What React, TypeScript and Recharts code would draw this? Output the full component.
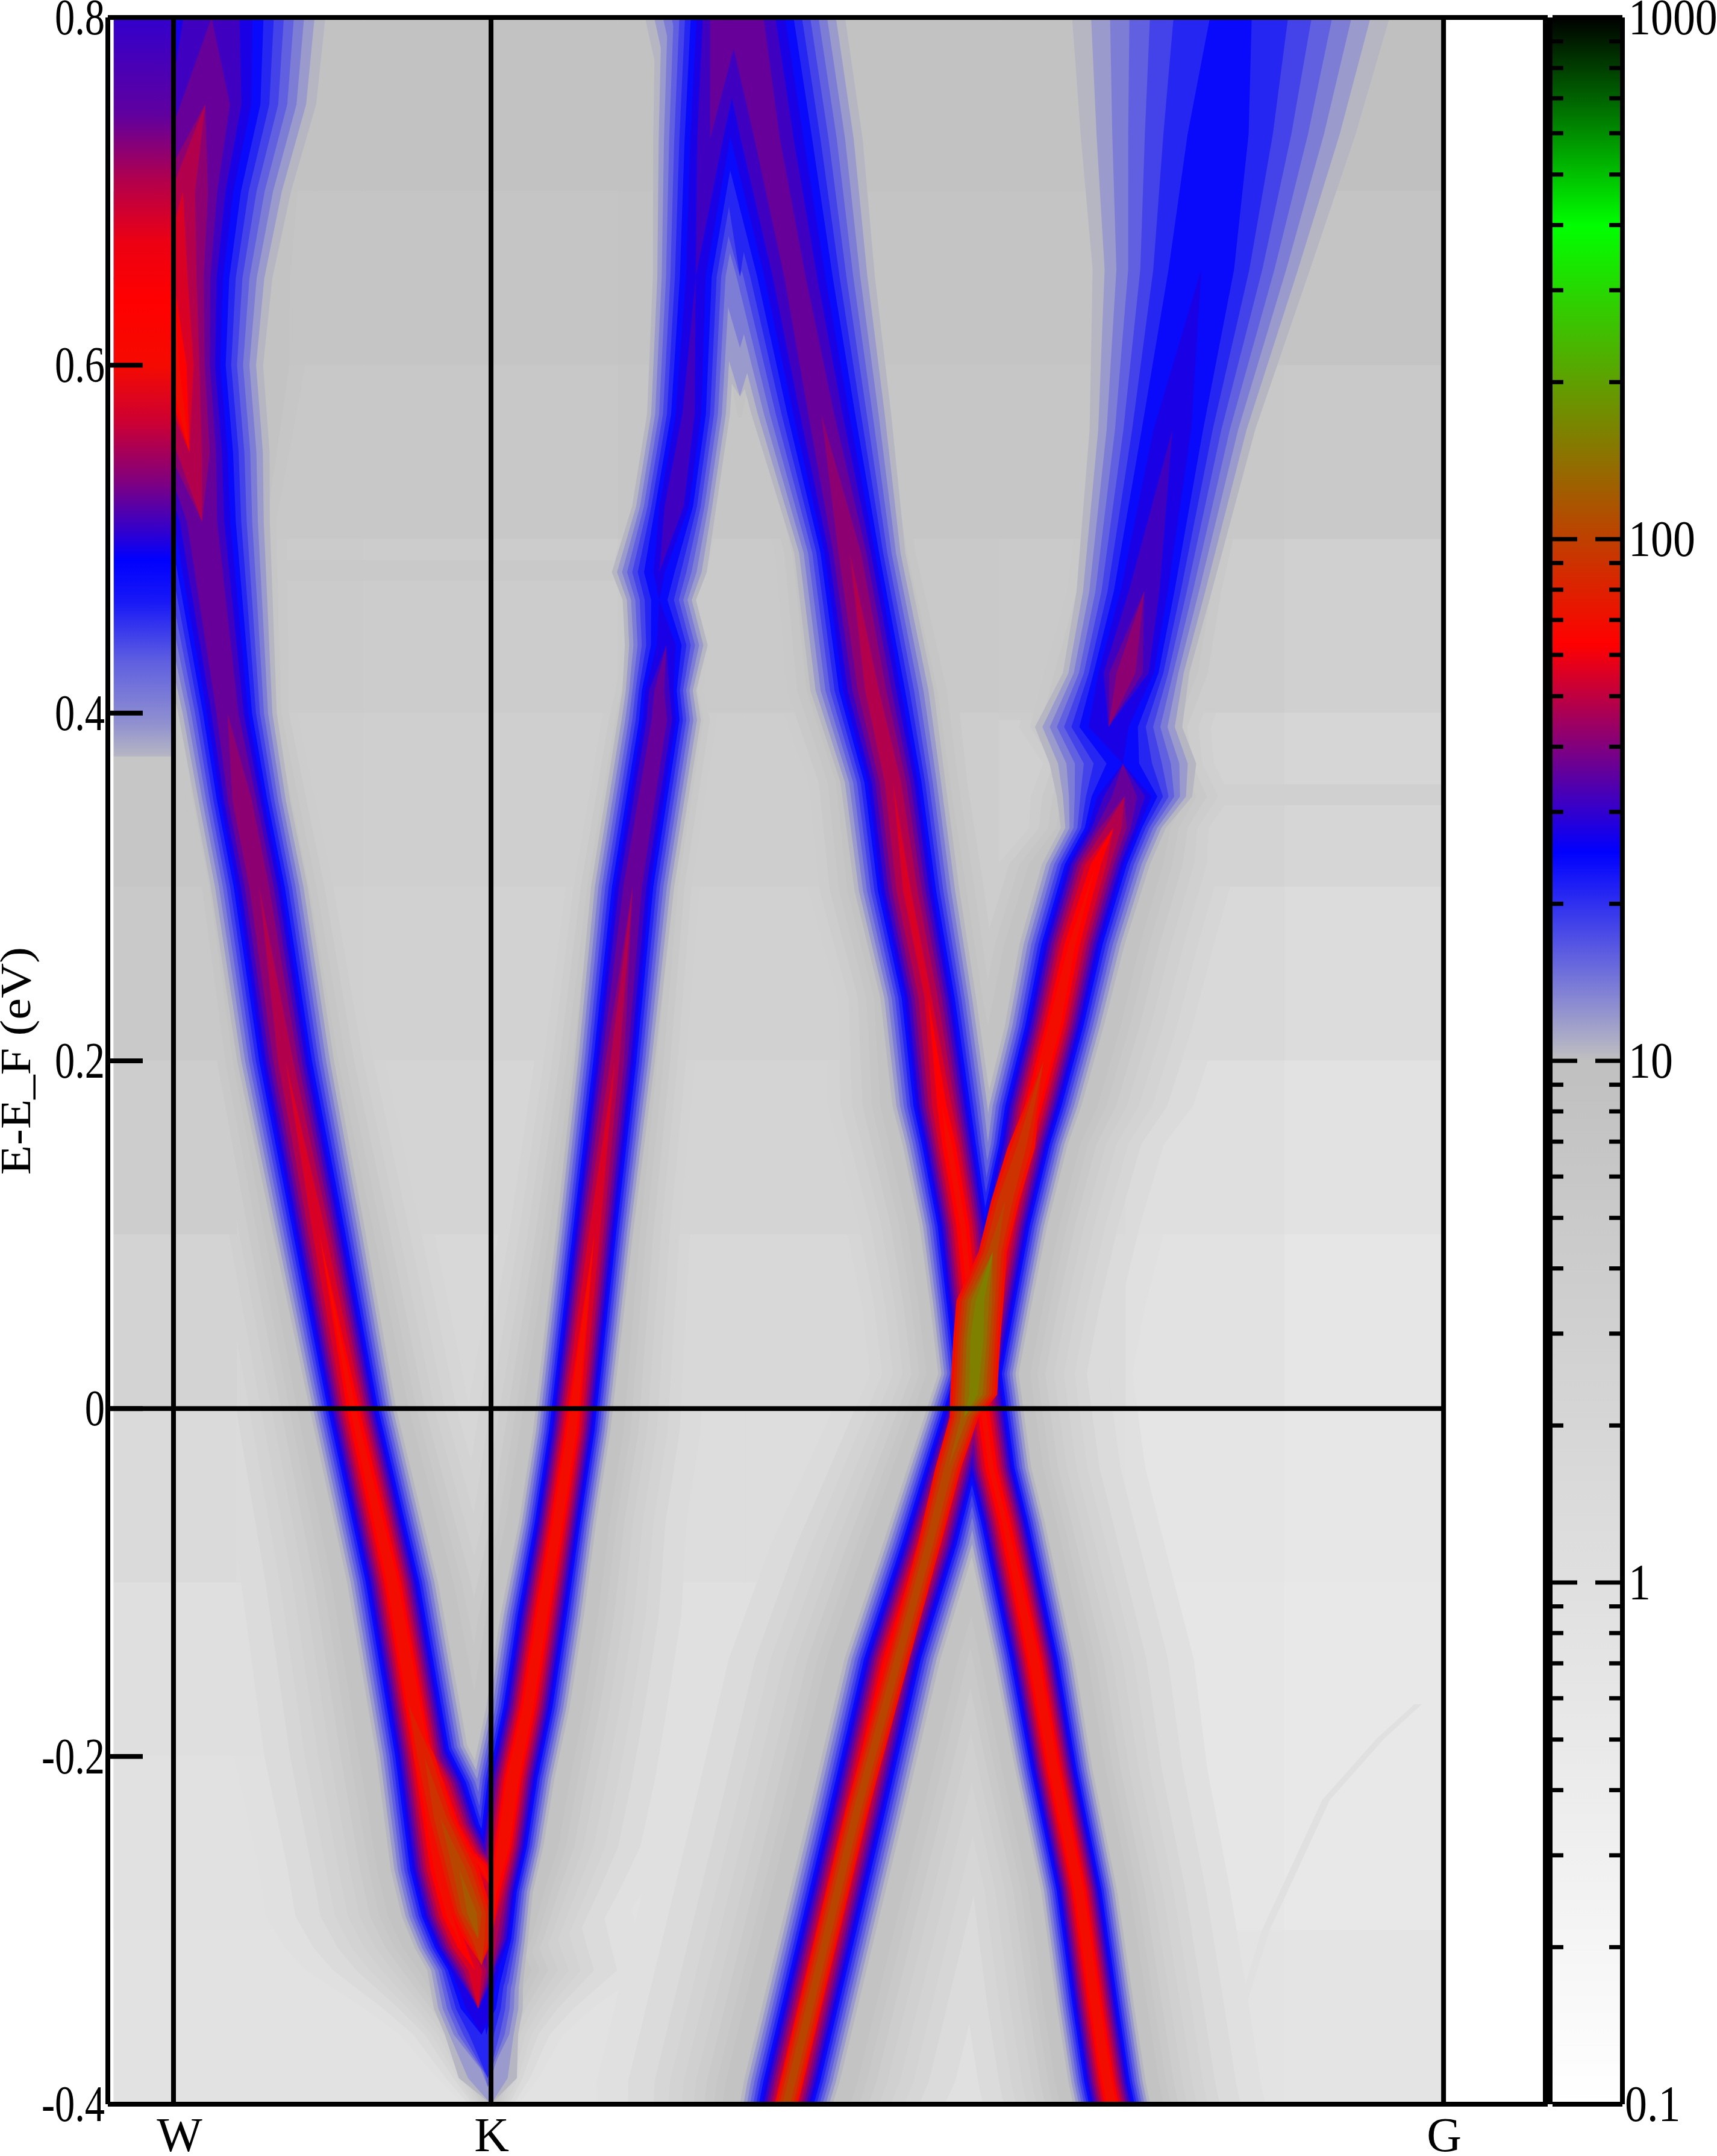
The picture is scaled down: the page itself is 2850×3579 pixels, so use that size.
import { Area, ComposedChart, ReferenceArea, ReferenceLine, XAxis, YAxis } from "recharts";

const FONT = "'Liberation Serif', serif";
const K_LEFT = -0.188;
const K_G = 4;

// ridge of each band: energy, k, half width at the edge of the colour, peak (log10 of I/10)
const bandAEnergy = [0.8, 0.75, 0.7, 0.65, 0.6, 0.55, 0.51, 0.4, 0.35, 0.3, 0.2, 0.1, 0, -0.1, -0.2, -0.265, -0.292, -0.31, -0.323, -0.345, -0.36, -0.385, -0.4];
const bandAK = [0.12, 0.1, 0.03, 0, 0, 0.05, 0.09, 0.17, 0.216, 0.27, 0.353, 0.46, 0.565, 0.69, 0.785, 0.83, 0.87, 0.91, 0.95, 0.96, 0.97, 0.99, 1];
const bandAWidth = [0.35, 0.34, 0.33, 0.3, 0.27, 0.24, 0.2, 0.14, 0.135, 0.137, 0.137, 0.13, 0.12, 0.127, 0.13, 0.13, 0.135, 0.135, 0.135, 0.125, 0.1, 0.08, 0.05];
const bandAPeak = [0.56, 0.62, 0.7, 0.78, 0.85, 0.72, 0.62, 0.62, 0.68, 0.68, 0.72, 0.78, 0.85, 0.88, 0.9, 0.85, 0.85, 0.82, 0.78, 0.5, 0.38, 0.14, 0.02];

const bandInnerEnergy = [-0.17, -0.215, -0.239, -0.255, -0.263, -0.275, -0.29, -0.31];
const bandInnerK = [0.74, 0.83, 0.878, 0.926, 0.97, 1, 1, 1];
const bandInnerWidth = [0.1, 0.14, 0.13, 0.12, 0.11, 0.08, 0.06, 0.03];
const bandInnerPeak = [0.6, 0.85, 0.85, 0.85, 0.85, 0.8, 0.6, 0.1];

const bandBEnergy = [-0.4, -0.39, -0.36, -0.33, -0.305, -0.278, -0.252, -0.213, -0.172, -0.119, -0.066, -0.013, 0.1, 0.2, 0.3, 0.396, 0.413, 0.439, 0.465, 0.481, 0.519, 0.572, 0.651, 0.73, 0.8];
const bandBK = [1, 0.99, 0.985, 0.995, 1, 1.01, 1.038, 1.068, 1.116, 1.161, 1.209, 1.254, 1.325, 1.39, 1.446, 1.53, 1.53, 1.552, 1.53, 1.53, 1.577, 1.622, 1.645, 1.69, 1.74];
const bandBWidth = [0.02, 0.05, 0.08, 0.09, 0.1, 0.105, 0.11, 0.115, 0.115, 0.115, 0.105, 0.105, 0.105, 0.11, 0.115, 0.115, 0.1, 0.115, 0.1, 0.135, 0.117, 0.115, 0.12, 0.165, 0.21];
const bandBPeak = [0, 0.05, 0.25, 0.45, 0.72, 0.85, 0.9, 0.9, 0.88, 0.88, 0.88, 0.88, 0.78, 0.7, 0.62, 0.6, 0.58, 0.48, 0.41, 0.45, 0.55, 0.52, 0.48, 0.55, 0.62];

const bandCEnergy = [0.8, 0.73, 0.651, 0.572, 0.492, 0.413, 0.36, 0.298, 0.236, 0.174, 0.152, 0.105, 0.059, 0.02, -0.034, -0.065, -0.144, -0.207, -0.277, -0.343, -0.387, -0.4];
const bandCK = [1.8, 1.87, 1.957, 2.04, 2.13, 2.2, 2.266, 2.31, 2.377, 2.42, 2.442, 2.486, 2.51, 2.535, 2.575, 2.617, 2.71, 2.772, 2.852, 2.903, 2.94, 2.955];
const bandCWidth = [0.305, 0.29, 0.24, 0.207, 0.16, 0.18, 0.15, 0.15, 0.135, 0.14, 0.13, 0.12, 0.11, 0.11, 0.11, 0.11, 0.11, 0.105, 0.103, 0.105, 0.105, 0.105];
const bandCPeak = [0.6, 0.58, 0.58, 0.6, 0.68, 0.7, 0.72, 0.75, 0.75, 0.82, 0.85, 0.85, 0.85, 0.85, 0.85, 0.85, 0.88, 0.88, 0.88, 0.88, 0.88, 0.88];

const bandEEnergy = [-0.4, -0.387, -0.343, -0.299, -0.233, -0.144, -0.078, -0.034, 0.02, 0.059, 0.105, 0.152, 0.174, 0.22, 0.267, 0.313, 0.334, 0.352, 0.371, 0.392, 0.423, 0.47, 0.563, 0.655, 0.733, 0.8];
const bandEK = [1.93, 1.947, 2.005, 2.063, 2.15, 2.264, 2.38, 2.448, 2.535, 2.575, 2.62, 2.68, 2.708, 2.774, 2.83, 2.905, 2.96, 2.995, 2.99, 2.945, 3, 3.057, 3.146, 3.237, 3.29, 3.33];
const bandEWidth = [0.13, 0.135, 0.135, 0.135, 0.135, 0.135, 0.13, 0.12, 0.11, 0.11, 0.115, 0.12, 0.135, 0.14, 0.15, 0.155, 0.15, 0.2, 0.22, 0.22, 0.185, 0.2, 0.25, 0.335, 0.43, 0.5];
const bandEPeak = [0.9, 0.9, 0.9, 0.9, 0.9, 0.9, 0.9, 0.88, 0.85, 0.85, 0.85, 0.85, 0.88, 0.88, 0.85, 0.82, 0.72, 0.6, 0.41, 0.5, 0.65, 0.55, 0.48, 0.44, 0.41, 0.39];

// the blue filling the gap between bands B and C near the top
const gapEnergy = [0.8, 0.73, 0.69, 0.651, 0.61, 0.582, 0.57];
const gapK = [1.784, 1.784, 1.784, 1.784, 1.784, 1.784, 1.784];
const gapWidth = [0.12, 0.12, 0.12, 0.11, 0.09, 0.06, 0.02];
const gapPeak = [0.42, 0.4, 0.35, 0.2, 0.1, 0.02, 0];

// where two bands run on top of each other the colour goes on to orange and olive
const overlapLeftEnergy = [-0.17, -0.2, -0.235, -0.265, -0.29, -0.305, -0.32];
const overlapLeftK = [0.74, 0.79, 0.84, 0.9, 0.94, 0.96, 0.97];
const overlapLeftWidth = [0.02, 0.04, 0.05, 0.07, 0.07, 0.05, 0.01];
const overlapLeftPeak = [0.82, 0.95, 1, 1.05, 1.1, 1, 0.82];

const overlapRightEnergy = [-0.4, -0.233, -0.078, -0.034, -0.005, 0.008, 0.04, 0.062, 0.09, 0.12, 0.15, 0.2];
const overlapRightK = [1.93, 2.15, 2.38, 2.44, 2.49, 2.52, 2.53, 2.54, 2.58, 2.62, 2.67, 2.74];
const overlapRightWidth = [0.04, 0.04, 0.04, 0.045, 0.05, 0.08, 0.08, 0.08, 0.05, 0.05, 0.05, 0.01];
const overlapRightPeak = [1.05, 1.05, 1.05, 1.05, 1.1, 1.22, 1.25, 1.22, 1.05, 1.02, 0.98, 0.82];

// flat blob left of W
const blobEnergy = [0.8, 0.744, 0.706, 0.671, 0.637, 0.6, 0.567, 0.533, 0.505, 0.488, 0.464, 0.429, 0.394, 0.375];
const blobLevel = [0.48, 0.55, 0.68, 0.77, 0.8, 0.83, 0.72, 0.6, 0.48, 0.4, 0.35, 0.2, 0.1, 0.02];

// faint features in the grey
const streakEnergy = [-0.17, -0.19, -0.225, -0.3, -0.4];
const streakK = [3.92, 3.8, 3.63, 3.44, 3.27];
const stripEnergy = [0.482, 0.44, 0.402, 0.353];
const stripFrom = [0.3, 1.75, 2.6, 3.2];
const stripTo = [1.45, 2.1, 2.85, 4];
const stripGrey = ["#c9c9c9", "#cbcbcb", "#cccccc", "#d0d0d0"];

// far field grey
const kEdges = [K_LEFT, 0.2, 0.6, 1, 1.4, 1.8, 2.2, 2.6, 3, 3.5, K_G];
const energyEdges = [0.8, 0.7, 0.6, 0.5, 0.4, 0.3, 0.2, 0.1, 0, -0.1, -0.2, -0.3, -0.4];
const greyRows = [
  [0xc2, 0xc2, 0xc2, 0xc2, 0xc2, 0xc2, 0xc2, 0xc2, 0xc0, 0xc0],
  [0xc4, 0xc5, 0xc5, 0xc5, 0xc4, 0xc4, 0xc4, 0xc4, 0xc4, 0xc4],
  [0xc6, 0xc8, 0xc8, 0xc8, 0xc6, 0xc6, 0xc6, 0xc6, 0xc8, 0xc9],
  [0xc8, 0xcb, 0xcc, 0xcc, 0xca, 0xca, 0xc9, 0xca, 0xcd, 0xd0],
  [0xc6, 0xce, 0xcf, 0xcf, 0xce, 0xce, 0xcd, 0xd0, 0xd3, 0xd6],
  [0xc9, 0xd0, 0xd1, 0xd2, 0xd1, 0xd1, 0xd1, 0xd5, 0xd9, 0xdc],
  [0xcd, 0xd2, 0xd4, 0xd6, 0xd4, 0xd4, 0xd5, 0xd9, 0xdf, 0xe2],
  [0xd3, 0xd6, 0xd8, 0xda, 0xd8, 0xd8, 0xd8, 0xdb, 0xe2, 0xe6],
  [0xda, 0xdc, 0xdc, 0xdc, 0xdd, 0xdd, 0xdc, 0xdf, 0xe5, 0xe7],
  [0xdf, 0xdf, 0xe0, 0xdf, 0xe0, 0xe0, 0xdf, 0xe1, 0xe6, 0xe8],
  [0xe1, 0xe1, 0xe1, 0xe1, 0xe2, 0xe2, 0xe1, 0xe2, 0xe6, 0xe8],
  [0xe2, 0xe2, 0xe2, 0xe2, 0xe2, 0xe2, 0xe2, 0xe2, 0xe3, 0xe4],
];

const yTicks = [0.8, 0.6, 0.4, 0.2, 0, -0.2, -0.4];
const kTicks = [0, 1, 4];
const kLabels = ["W", "K", "G"];
const barMajor = [0.1, 1, 10, 100, 1000];
const barMinor = [0.2, 0.3, 0.4, 0.5, 0.6, 0.7, 0.8, 0.9, 2, 3, 4, 5, 6, 7, 8, 9, 20, 30, 40, 50, 60, 70, 80, 90, 200, 300, 400, 500, 600, 700, 800, 900];
const barValues = [0.1, 10, 25.1, 63, 398, 1000];
const barColors = ["#ffffff", "#c0c0c0", "#0000ff", "#ff0000", "#00ff00", "#000000"];

const tailLevels = [-1, -0.85, -0.7, -0.6, -0.5, -0.4, -0.3, -0.2, -0.1];
const mainLevels = [0.02, 0.08, 0.14, 0.2, 0.26, 0.32, 0.38, 0.44, 0.5, 0.56, 0.62, 0.68, 0.74, 0.8];
const overlapLevels = [0.84, 0.9, 0.96, 1.02, 1.08, 1.14, 1.2, 1.25];

const bands = [
  { name: "a", e: bandAEnergy, k: bandAK, w: bandAWidth, p: bandAPeak },
  { name: "in", e: bandInnerEnergy, k: bandInnerK, w: bandInnerWidth, p: bandInnerPeak },
  { name: "b", e: bandBEnergy, k: bandBK, w: bandBWidth, p: bandBPeak },
  { name: "c", e: bandCEnergy, k: bandCK, w: bandCWidth, p: bandCPeak },
  { name: "e", e: bandEEnergy, k: bandEK, w: bandEWidth, p: bandEPeak },
  { name: "gap", e: gapEnergy, k: gapK, w: gapWidth, p: gapPeak },
];
const overlaps = [
  { name: "ol", e: overlapLeftEnergy, k: overlapLeftK, w: overlapLeftWidth, p: overlapLeftPeak },
  { name: "or", e: overlapRightEnergy, k: overlapRightK, w: overlapRightWidth, p: overlapRightPeak },
];

const hex = (n: number) => Math.round(n).toString(16).padStart(2, "0");

// same colour map as the bar on the right
function levelColor(level: number) {
  const v = 10 ** (level + 1);
  let i = 0;
  while (i < barValues.length - 2 && v > barValues[i + 1]) i++;
  const t = (Math.log10(v) - Math.log10(barValues[i])) / (Math.log10(barValues[i + 1]) - Math.log10(barValues[i]));
  const a = barColors[i];
  const b = barColors[i + 1];
  const mix = (s: number) => {
    const x = parseInt(a.slice(s, s + 2), 16);
    const y = parseInt(b.slice(s, s + 2), 16);
    return hex(x + (y - x) * Math.min(1, Math.max(0, t)));
  };
  return `#${mix(1)}${mix(3)}${mix(5)}`;
}

const clampK = (k: number) => Math.min(K_G, Math.max(K_LEFT, k));

// contour of one colour level round a band ridge
function contour(band: typeof bands[number], level: number, base: number) {
  return band.e.map((e, i) => {
    const top = Math.max(0, 10 ** (band.p[i] - level) - 1);
    const bottom = level < 0 ? 5 : Math.max(0.05, 10 ** (band.p[i] - base) - 1);
    const w = band.w[i];
    const wide = base === 0 ? w + 0.02 * Math.min(1, w / 0.08) : w;
    const half = wide * Math.sqrt(top / bottom);
    return { e, range: [clampK(band.k[i] - half), clampK(band.k[i] + half)] };
  });
}

const blobRows = [
  { e: blobEnergy[0], range: [K_LEFT, 0] },
  { e: blobEnergy[blobEnergy.length - 1], range: [K_LEFT, 0] },
];

const streakRows = streakEnergy.map((e, i) => ({ e, range: [streakK[i] - 0.012, streakK[i] + 0.012] }));

const LeftTick = (props: any) => {
  const { x, y, payload } = props;
  return (
    <g>
      <line x1={x} x2={x + 58} y1={y} y2={y} stroke="#000" strokeWidth={8} />
      <text
        transform={`translate(${x - 5},${y + 28}) scale(0.79,1)`}
        textAnchor="end"
        fontFamily={FONT}
        fontSize={84}
        fill="#000"
      >
        {String(payload.value)}
      </text>
    </g>
  );
};

const RightTick = (props: any) => {
  const { x, y } = props;
  return <line x1={x} x2={x - 61} y1={y} y2={y} stroke="#000" strokeWidth={8} />;
};

const KTick = (props: any) => {
  const { x, y, payload } = props;
  const i = kTicks.indexOf(payload.value);
  return (
    <text
      x={i === 0 ? x + 10 : x + 1}
      y={y + 78}
      textAnchor="middle"
      fontFamily={FONT}
      fontSize={80}
      fill="#000"
    >
      {kLabels[i]}
    </text>
  );
};

// bar ticks sit on both inner edges, labels outside the right edge
const BarTick = (props: any) => {
  const { x, y, payload } = props;
  const major = barMajor.includes(payload.value);
  const len = major ? 41 : 18;
  const right = x + 112;
  return (
    <g>
      <line x1={x} x2={x + len} y1={y} y2={y} stroke="#000" strokeWidth={7} />
      <line x1={right} x2={right - len} y1={y} y2={y} stroke="#000" strokeWidth={7} />
      {major && (
        <text
          transform={`translate(${payload.value === 0.1 ? right + 8 : right + 14},${y + 28}) scale(0.88,1)`}
          fontFamily={FONT}
          fontSize={84}
          fill="#000"
        >
          {String(payload.value)}
        </text>
      )}
    </g>
  );
};

const YTitle = (props: any) => {
  const { viewBox } = props;
  return (
    <text
      transform={`translate(50,${viewBox.y + viewBox.height / 2}) rotate(-90) scale(0.96,0.85)`}
      textAnchor="middle"
      fontFamily={FONT}
      fontSize={84}
      fill="#000"
    >
      E-E_F (eV)
    </text>
  );
};

export default function App() {
  return (
    <div style={{ position: "absolute", left: 0, top: 0, width: 2850, height: 3579, background: "#fff" }}>
      <style>{`.tail{mix-blend-mode:darken}`}</style>
      <ComposedChart
        width={2850}
        height={3579}
        layout="vertical"
        margin={{ top: 0, right: 0, bottom: 0, left: 0 }}
        style={{ position: "absolute", left: 0, top: 0 }}
      >
        <defs>
          <linearGradient id="blob" x1="0" y1="0" x2="0" y2="1">
            {blobEnergy.map((e, i) => (
              <stop
                key={e}
                offset={(blobEnergy[0] - e) / (blobEnergy[0] - blobEnergy[blobEnergy.length - 1])}
                stopColor={levelColor(blobLevel[i])}
              />
            ))}
          </linearGradient>
        </defs>
        <XAxis
          type="number"
          domain={[-0.2068, 4.328]}
          ticks={kTicks}
          interval={0}
          height={86}
          tickSize={0}
          tickMargin={0}
          tick={<KTick />}
          axisLine={{ stroke: "#000", strokeWidth: 8 }}
        />
        <XAxis
          xAxisId="top"
          orientation="top"
          type="number"
          domain={[-0.2068, 4.328]}
          height={29}
          tick={false}
          tickLine={false}
          axisLine={{ stroke: "#000", strokeWidth: 8 }}
        />
        <YAxis
          type="number"
          dataKey="e"
          reversed
          domain={[-0.4, 0.8]}
          ticks={yTicks}
          interval={0}
          width={179}
          tickSize={0}
          tickMargin={0}
          tick={<LeftTick />}
          axisLine={{ stroke: "#000", strokeWidth: 8 }}
          label={{ content: <YTitle /> }}
        />
        <YAxis
          yAxisId="right"
          orientation="right"
          type="number"
          reversed
          domain={[-0.4, 0.8]}
          ticks={yTicks}
          interval={0}
          width={281}
          tickSize={0}
          tickMargin={0}
          tick={<RightTick />}
          axisLine={{ stroke: "#000", strokeWidth: 16 }}
        />

        {greyRows.map((row, r) =>
          row.map((g, c) => (
            <ReferenceArea
              key={`g${r}-${c}`}
              x1={kEdges[c]}
              x2={kEdges[c + 1]}
              y1={energyEdges[r + 1]}
              y2={energyEdges[r]}
              fill={`#${hex(g)}${hex(g)}${hex(g)}`}
              stroke={`#${hex(g)}${hex(g)}${hex(g)}`}
              fillOpacity={1}
            />
          )),
        )}

        {tailLevels.flatMap((level) =>
          bands.map((band) => (
            <Area
              key={`t${band.name}${level}`}
              className="tail"
              data={contour(band, level, 0)}
              dataKey="range"
              type="linear"
              stroke="none"
              fill={levelColor(level)}
              fillOpacity={1}
              dot={false}
              activeDot={false}
              isAnimationActive={false}
            />
          )),
        )}

        <Area
          className="tail"
          data={streakRows}
          dataKey="range"
          type="linear"
          stroke="none"
          fill="#e0e0e0"
          fillOpacity={1}
          dot={false}
          activeDot={false}
          isAnimationActive={false}
        />
        {stripEnergy.map((e, i) => (
          <Area
            key={`s${e}`}
            className="tail"
            data={[
              { e: e + 0.006, range: [stripFrom[i], stripTo[i]] },
              { e: e - 0.006, range: [stripFrom[i], stripTo[i]] },
            ]}
            dataKey="range"
            type="linear"
            stroke="none"
            fill={stripGrey[i]}
            fillOpacity={1}
            dot={false}
            activeDot={false}
            isAnimationActive={false}
          />
        ))}

        {mainLevels.flatMap((level) =>
          bands.map((band) => (
            <Area
              key={`m${band.name}${level}`}
              data={contour(band, level, 0)}
              dataKey="range"
              type="linear"
              stroke="none"
              fill={levelColor(level)}
              fillOpacity={1}
              dot={false}
              activeDot={false}
              isAnimationActive={false}
            />
          )),
        )}

        {overlapLevels.flatMap((level) =>
          [...bands, ...overlaps].map((band) => (
            <Area
              key={`o${band.name}${level}`}
              data={contour(band, level, overlaps.includes(band) ? 0.8 : 0)}
              dataKey="range"
              type="linear"
              stroke="none"
              fill={levelColor(level)}
              fillOpacity={1}
              dot={false}
              activeDot={false}
              isAnimationActive={false}
            />
          )),
        )}

        <Area
          data={blobRows}
          dataKey="range"
          type="linear"
          stroke="none"
          fill="url(#blob)"
          fillOpacity={1}
          dot={false}
          activeDot={false}
          isAnimationActive={false}
        />

        <ReferenceLine x={0} stroke="#000" strokeWidth={8} />
        <ReferenceLine x={1} stroke="#000" strokeWidth={8} />
        <ReferenceLine x={4} stroke="#000" strokeWidth={8} />
        <ReferenceLine
          segment={[
            { x: -0.2068, y: 0 },
            { x: 4, y: 0 },
          ]}
          stroke="#000"
          strokeWidth={8}
        />
      </ComposedChart>

      <ComposedChart
        width={281}
        height={3579}
        margin={{ top: 0, right: 0, bottom: 0, left: 0 }}
        data={[
          { x: 0, v: [0.1, 1000] },
          { x: 1, v: [0.1, 1000] },
        ]}
        style={{ position: "absolute", left: 2569, top: 0 }}
      >
        <defs>
          <linearGradient id="bar" x1="0" y1="0" x2="0" y2="1">
            {[...barValues].reverse().map((v, i) => (
              <stop key={v} offset={(3 - Math.log10(v)) / 4} stopColor={barColors[barColors.length - 1 - i]} />
            ))}
          </linearGradient>
        </defs>
        <XAxis
          dataKey="x"
          type="number"
          domain={[0, 1]}
          height={86}
          tick={false}
          tickLine={false}
          axisLine={{ stroke: "#000", strokeWidth: 8 }}
        />
        <XAxis
          xAxisId="top"
          orientation="top"
          dataKey="x"
          type="number"
          domain={[0, 1]}
          height={29}
          tick={false}
          tickLine={false}
          axisLine={{ stroke: "#000", strokeWidth: 8 }}
        />
        <YAxis
          scale="log"
          type="number"
          domain={[0.1, 1000]}
          ticks={[...barMajor, ...barMinor]}
          interval={0}
          width={8}
          tickSize={0}
          tickMargin={0}
          tick={<BarTick />}
          axisLine={false}
        />
        <YAxis
          yAxisId="right"
          orientation="right"
          type="number"
          domain={[0, 1]}
          width={157}
          tick={false}
          tickLine={false}
          axisLine={{ stroke: "#000", strokeWidth: 8 }}
        />
        <Area
          dataKey="v"
          type="linear"
          stroke="none"
          fill="url(#bar)"
          fillOpacity={1}
          dot={false}
          activeDot={false}
          isAnimationActive={false}
        />
      </ComposedChart>
    </div>
  );
}
